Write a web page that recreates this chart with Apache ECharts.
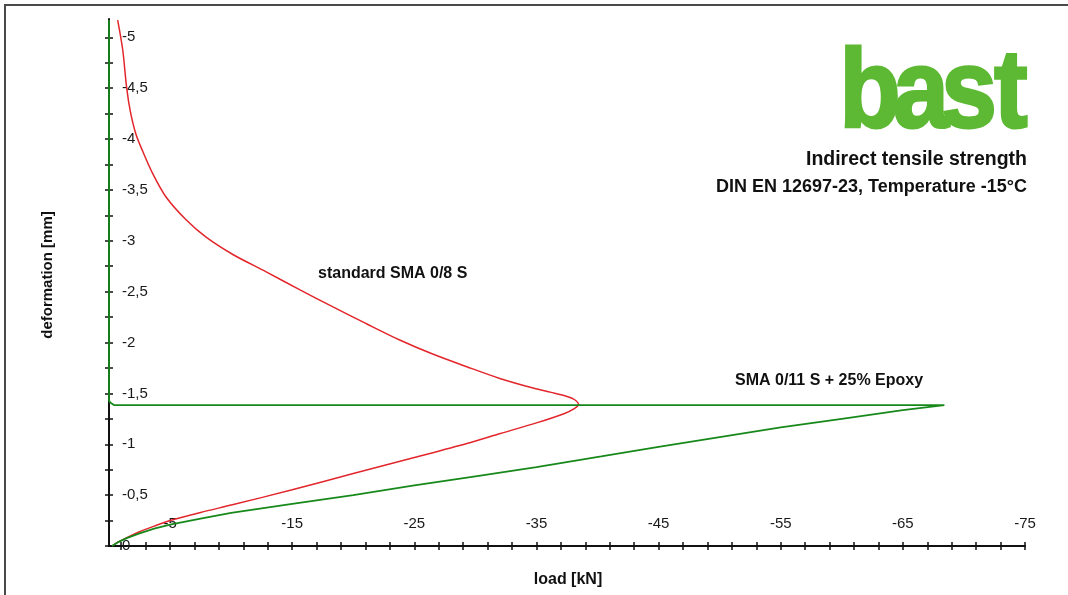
<!DOCTYPE html>
<html>
<head>
<meta charset="utf-8">
<script src="https://cdn.jsdelivr.net/npm/echarts@6/dist/echarts.min.js"></script>
<style>
html,body{margin:0;padding:0;background:#fff;}
#chart{width:1068px;height:595px;}
</style>
</head>
<body>
<div id="chart"></div>
<script>
// ---- data: [load kN, deformation mm] ----
const standardSMA = [
  [-0.25, 0], [-0.7, -0.035], [-1.5, -0.085], [-2.5, -0.14], [-3.7, -0.195], [-5, -0.25],
  [-7.5, -0.33], [-10.1, -0.405], [-15, -0.552], [-20, -0.712], [-25, -0.87], [-29.3, -1.008],
  [-32.05, -1.106], [-35, -1.21], [-37.3, -1.303], [-38.1, -1.35], [-38.45, -1.39],
  [-38.1, -1.44], [-37.5, -1.47], [-36.2, -1.51], [-34.8, -1.55], [-32.0, -1.647],
  [-29.3, -1.762], [-26.5, -1.887], [-23.8, -2.025], [-21.07, -2.185], [-18.34, -2.35],
  [-15.6, -2.52], [-12.87, -2.695], [-10.14, -2.865], [-7.95, -3.035], [-6.31, -3.206],
  [-4.67, -3.43], [-3.58, -3.66], [-2.76, -3.88], [-2.2, -4.05], [-1.75, -4.27], [-1.45, -4.5],
  [-1.12, -4.88], [-0.71, -5.17]
];
const epoxySMA = [
  [-0.25, 0], [-0.7, -0.035], [-1.5, -0.08], [-2.5, -0.125], [-3.7, -0.17], [-5, -0.21],
  [-7.5, -0.27], [-10, -0.325], [-15, -0.415], [-20, -0.5], [-25, -0.595], [-30, -0.685], [-35, -0.775],
  [-40.3, -0.88], [-45, -0.975], [-50, -1.07], [-55, -1.165], [-60, -1.25], [-65, -1.336],
  [-68.4, -1.385], [-0.4, -1.385], [-0.1, -1.41], [0, -1.43], [0, -5.17]
];
const xLabelValues = [-5, -15, -25, -35, -45, -55, -65, -75];
const xTickValues = [-1, -3, -5, -7, -9, -11, -13, -15, -17, -19, -21, -23, -25, -27, -29, -31, -33, -35, -37, -39, -41, -43, -45, -47, -49, -51, -53, -55, -57, -59, -61, -63, -65, -67, -69, -71, -73, -75];
const yLabelValues = [0, -0.5, -1, -1.5, -2, -2.5, -3, -3.5, -4, -4.5, -5];
const yTickValues = [0, -0.25, -0.5, -0.75, -1, -1.25, -1.5, -1.75, -2, -2.25, -2.5, -2.75, -3, -3.25, -3.5, -3.75, -4, -4.25, -4.5, -4.75, -5];
const seriesNames = ['standard SMA 0/8 S', 'SMA 0/11 S + 25% Epoxy'];
const titleLines = ['Indirect tensile strength', 'DIN EN 12697-23, Temperature -15°C'];
const axisTitles = ['load [kN]', 'deformation [mm]'];
const logoLetters = ['b', 'a', 's', 't'];

const FONT = '"Liberation Sans", Arial, Helvetica, sans-serif';
const chart = echarts.init(document.getElementById('chart'), null, {renderer: 'canvas'});

const axisLineStyle = {color: '#111', width: 2};
const tickStyle = {color: '#111', width: 1.5};

const logoX = [870, 921, 969, 1011];
const graphic = [
  {type: 'polyline', shape: {points: [[5, 595], [5, 5], [1068, 5]]}, style: {stroke: '#4a4a4a', lineWidth: 2, fill: null}},
  {type: 'text', x: 1027, y: 160, style: {text: titleLines[0], font: 'bold 19.5px ' + FONT, fill: '#111', align: 'right', verticalAlign: 'middle'}},
  {type: 'text', x: 1027, y: 187, style: {text: titleLines[1], font: 'bold 18px ' + FONT, fill: '#111', align: 'right', verticalAlign: 'middle'}},
  {type: 'text', x: 318, y: 274, style: {text: seriesNames[0], font: 'bold 16px ' + FONT, fill: '#111', align: 'left', verticalAlign: 'middle'}},
  {type: 'text', x: 735, y: 381, style: {text: seriesNames[1], font: 'bold 16px ' + FONT, fill: '#111', align: 'left', verticalAlign: 'middle'}},
  {type: 'text', x: 568, y: 580, style: {text: axisTitles[0], font: 'bold 16px ' + FONT, fill: '#111', align: 'center', verticalAlign: 'middle'}},
  {type: 'text', x: 48, y: 275, rotation: Math.PI / 2, style: {text: axisTitles[1], font: 'bold 15px ' + FONT, fill: '#111', align: 'center', verticalAlign: 'middle'}}
];
logoLetters.forEach(function (ch, i) {
  graphic.push({type: 'text', x: logoX[i], y: 96, scaleX: 0.9, style: {text: ch, font: 'bold 111px ' + FONT, fill: '#5db933', stroke: '#5db933', lineWidth: 3, align: 'center', verticalAlign: 'middle'}});
});

const option = {
  backgroundColor: '#fff',
  animation: false,
  grid: {left: 109, right: 43, top: 19, bottom: 49, containLabel: false},
  xAxis: [
    {
      type: 'value', min: -75, max: 0, inverse: true, position: 'bottom',
      axisLine: {show: true, onZero: false, lineStyle: axisLineStyle},
      axisTick: {show: true, inside: false, length: 4, customValues: xTickValues, lineStyle: tickStyle},
      axisLabel: {show: true, inside: true, margin: 15, customValues: xLabelValues, fontSize: 15, color: '#1a1a1a', fontFamily: FONT, formatter: function (v) { return String(v); }},
      splitLine: {show: false}
    },
    {
      type: 'value', min: -75, max: 0, inverse: true, position: 'bottom',
      axisLine: {show: false, onZero: false},
      axisTick: {show: true, inside: true, length: 4, customValues: xTickValues, lineStyle: tickStyle},
      axisLabel: {show: false},
      splitLine: {show: false}
    }
  ],
  yAxis: [
    {
      type: 'value', min: -5.18, max: 0, inverse: true, position: 'left',
      axisLine: {show: true, onZero: false, lineStyle: axisLineStyle},
      axisTick: {show: true, inside: false, length: 4, customValues: yTickValues, lineStyle: tickStyle},
      axisLabel: {show: true, inside: true, margin: 13, customValues: yLabelValues, fontSize: 15, color: '#1a1a1a', fontFamily: FONT, formatter: function (v) { return String(v).replace('.', ','); }},
      splitLine: {show: false}
    },
    {
      type: 'value', min: -5.18, max: 0, inverse: true, position: 'left',
      axisLine: {show: false, onZero: false},
      axisTick: {show: true, inside: true, length: 4, customValues: yTickValues, lineStyle: tickStyle},
      axisLabel: {show: false},
      splitLine: {show: false}
    }
  ],
  series: [
    {
      name: seriesNames[0], type: 'line', xAxisIndex: 0, yAxisIndex: 0,
      data: standardSMA, showSymbol: false, smooth: 0.3,
      lineStyle: {color: '#e3262b', width: 1.5}, itemStyle: {color: '#e3262b'}, z: 3
    },
    {
      name: seriesNames[1], type: 'line', xAxisIndex: 0, yAxisIndex: 0,
      data: epoxySMA, showSymbol: false, smooth: false,
      lineStyle: {color: '#17891b', width: 1.8}, itemStyle: {color: '#17891b'}, z: 4
    }
  ],
  graphic: graphic
};
chart.setOption(option);
</script>
</body>
</html>
